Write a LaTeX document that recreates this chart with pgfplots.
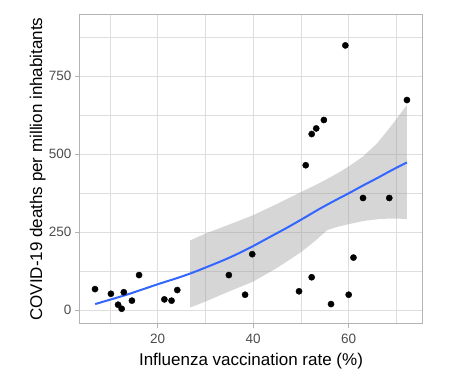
\documentclass[border=0pt]{standalone}
\usepackage{pgfplots}
\pgfplotsset{compat=1.18}
\usepackage{fontspec}
\setmainfont{Liberation Sans}
\definecolor{gridc}{HTML}{DEDEDE}
\definecolor{borderc}{HTML}{B3B3B3}
\definecolor{tickc}{HTML}{4D4D4D}
\definecolor{fitc}{HTML}{3366FF}
\definecolor{ribc}{HTML}{999999}
\pgfplotstableread{
x y
6.87 67
10.2 52
11.7 17
12.45 4
12.9 57
14.6 30
16.1 112
21.4 34
22.9 30
24.1 64
34.9 112
38.3 49
39.8 179
49.6 60
51.0 464
52.25 564
53.2 582
52.25 105
54.8 609
56.3 19
59.3 848
60.0 49
61.0 168
63.0 359
68.5 359
72.2 673
}\pts
\pgfplotstableread{
x y
6.9 19
10 33
13.5 49
17 67
20.5 85
24 102
27 118
30 136
34 161
37 182
40 205
43 230
47 263
50.2 291
54 325
57 350
60 374
63 399
66 423
69 448
72.2 473
}\fit
\begin{document}
\begin{tikzpicture}
\useasboundingbox (-79.3bp,-61.7bp) rectangle (396.7bp,323.3bp);
\begin{axis}[
  scale only axis, width=343.4bp, height=308.3bp,
  xmin=3.58, xmax=75.5, ymin=-42.6, ymax=945.5,
  xtick={20,40,60}, ytick={0,250,500,750},
  minor xtick={10,30,50,70}, minor ytick={125,375,625,875},
  grid=both,
  major grid style={draw=gridc, line width=0.9bp},
  minor grid style={draw=gridc, line width=0.5bp},
  axis line style={draw=borderc, line width=1bp},
  tick align=outside, major tick length=4.3bp, minor tick length=0pt,
  tick style={draw=borderc, line width=0.8bp},
  xtick pos=bottom, ytick pos=left,
  tick label style={font=\fontsize{13.5bp}{16bp}\selectfont, text=tickc},
  xticklabel style={yshift=-3bp},
  /pgf/number format/assume math mode=true,
  label style={font=\fontsize{17bp}{20bp}\selectfont},
  xlabel={Influenza vaccination rate (\%)},
  ylabel={COVID-19 deaths per million inhabitants},
  xlabel style={at={(axis description cs:0.5,-0.1353)}, anchor=base},
  ylabel style={at={(axis description cs:-0.1086,0.5)}, anchor=base},
]
\addplot[only marks, mark=*, mark size=3.1bp, black] table {\pts};
\addplot[draw=none, fill=ribc, fill opacity=0.4] coordinates {
(26.8,8) (30,27) (35,60) (40,91) (45,135) (50,185) (53,222) (55.5,256) (57.5,266) (60,275) (63,285) (66.5,292) (69.3,293) (72.2,292)
(72.2,657) (69,592) (66,535) (63,492) (60,460) (57.5,437) (55.5,420) (53,400) (50,378) (45,340) (40,304) (35,274) (30,245) (26.8,223)
} -- cycle;
\addplot[fitc, line width=2bp, smooth] table {\fit};
\end{axis}
\end{tikzpicture}
\end{document}
